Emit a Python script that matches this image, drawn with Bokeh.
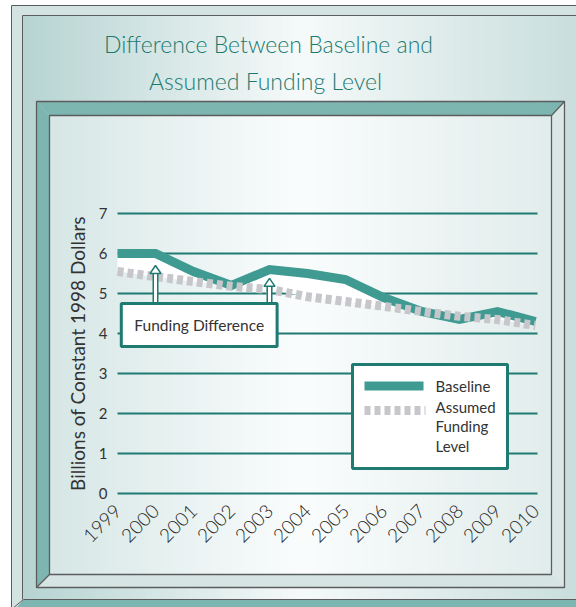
import numpy as np
from math import pi
from bokeh.plotting import figure
from bokeh.models import Range1d, LinearAxis, FixedTicker, ColumnDataSource
from bokeh.core.properties import value
from bokeh.embed import file_html
from bokeh.resources import INLINE

# ---------------- data ----------------
years = [1999, 2000, 2001, 2002, 2003, 2004, 2005, 2006, 2007, 2008, 2009, 2010]
baseline = [6.0, 6.0, 5.55, 5.2, 5.6, 5.5, 5.35, 4.9, 4.55, 4.35, 4.55, 4.3]
assumed = [5.55, 5.42, 5.3, 5.18, 5.1, 4.92, 4.8, 4.68, 4.55, 4.43, 4.35, 4.2]
y_ticks = [0, 1, 2, 3, 4, 5, 6, 7]
x_tick_labels = ["1999", "2000", "2001", "2002", "2003", "2004", "2005",
                 "2006", "2007", "2008", "2009", "2010"]
title_lines = ["Difference Between Baseline and", "Assumed Funding Level"]
y_label = "Billions of Constant 1998 Dollars"
legend_labels = ["Baseline", "Assumed\nFunding\nLevel"]
note_text = "Funding Difference"
arrow_years = [2000, 2003]
arrow_tips = [5.7, 5.38]
note_box = dict(left=1999.1, right=2003.2, top=4.75, bottom=3.675)

# ---------------- layout (pixels) ----------------
W, H = 576, 607
PX_X0, PX_X1 = 117, 535      # pixel of first / last year
PX_Y0, PX_UNIT = 493, 40     # pixel of value 0, pixels per unit
XS = (years[-1] - years[0]) / (PX_X1 - PX_X0)

FONT = "Lato"
TITLE_FONT = "Lato Light, Lato"
TEAL_FACE = "#7db5b1"
LIGHT_FACE = "#dae7e6"
OUTLINE = "#5c5c5c"
GRID = "#1f7a72"
BASE_COLOR = "#3f9a92"
ASSUMED_COLOR = "#c6c6cb"
TEXT = "#333333"
TITLE = "#1b7a70"

p = figure(width=W, height=H, output_backend="svg", toolbar_location=None,
           x_axis_location=None, y_axis_location=None, title=None,
           x_range=Range1d(years[0] - PX_X0 * XS, years[0] + (W - PX_X0) * XS),
           y_range=Range1d((PX_Y0 - H) / PX_UNIT, PX_Y0 / PX_UNIT),
           min_border=0, min_border_left=0, min_border_right=0,
           min_border_top=0, min_border_bottom=0,
           outline_line_color=None, background_fill_color="white",
           border_fill_color="white")
p.grid.visible = False
p.extra_x_ranges = {"px": Range1d(0, W)}
p.extra_y_ranges = {"px": Range1d(H, 0)}
PX = dict(x_range_name="px", y_range_name="px")


def hexrgb(h):
    return tuple(int(h[i:i + 2], 16) for i in (1, 3, 5))


def strips(x0, x1, y0, y1, stops, n=90):
    edges = np.linspace(x0, x1, n + 1)
    mids = (edges[:-1] + edges[1:]) / 2
    sp = [s[0] for s in stops]
    cols = np.array([hexrgb(s[1]) for s in stops], dtype=float)
    colors = []
    for m in mids:
        r, g, b = (np.interp(m, sp, cols[:, k]) for k in range(3))
        colors.append("#%02x%02x%02x" % (int(r), int(g), int(b)))
    p.quad(left=edges[:-1], right=edges[1:] + 0.7, top=[y0] * n, bottom=[y1] * n,
           fill_color=colors, line_color=None, **PX)


# outer card
p.quad(left=[11], right=[600], top=[5], bottom=[640], fill_color="#d3e3e2",
       line_color=OUTLINE, line_width=1, **PX)
# recessed area with gradient
strips(22, 577, 15, 599, [(22, "#b6d4d2"), (300, "#f6fafa"), (577, "#c9dfdd")])
p.multi_line(xs=[[22, 580], [22, 22]], ys=[[15, 15], [15, 599]],
             line_color=OUTLINE, line_width=1, **PX)
# bottom teal band
p.patch(x=[23, 580, 580, 12], y=[599, 599, 612, 612], fill_color=TEAL_FACE,
        line_color=None, **PX)
p.multi_line(xs=[[23, 580], [23, 12]], ys=[[599, 599], [599, 608]],
             line_color=OUTLINE, line_width=1, **PX)

# bevelled chart panel
OX0, OY0, OX1, OY1 = 36, 101, 564, 587
IX0, IY0, IX1, IY1 = 49, 115, 551, 574
p.patches(xs=[[OX0, OX1, IX1, IX0], [OX0, IX0, IX0, OX0],
              [OX1, OX1, IX1, IX1], [OX0, OX1, IX1, IX0]],
          ys=[[OY0, OY0, IY0, IY0], [OY0, IY0, IY1, OY1],
              [OY0, OY1, IY1, IY0], [OY1, OY1, IY1, IY1]],
          fill_color=[TEAL_FACE, TEAL_FACE, LIGHT_FACE, "#d6e5e4"],
          line_color=None, **PX)
strips(IX0, IX1, IY0, IY1, [(49, "#d6e7e6"), (300, "#fbfdfd"), (551, "#e1edec")])
p.quad(left=[OX0, IX0], right=[OX1, IX1], top=[OY0, IY0], bottom=[OY1, IY1],
       fill_color=None, line_color=OUTLINE, line_width=1.3, **PX)
p.multi_line(xs=[[IX1, OX1], [IX0, OX0]], ys=[[IY0, OY0], [IY1, OY1]],
             line_color=OUTLINE, line_width=1.2, **PX)

# ---------------- chart ----------------
grid_x1 = years[-1] + 2 * XS
p.segment(x0=[years[0]] * len(y_ticks), x1=[grid_x1] * len(y_ticks),
          y0=y_ticks, y1=y_ticks, line_color=GRID, line_width=2)

src = ColumnDataSource(dict(year=years, base=baseline, assumed=assumed))
p.varea(x="year", y1="assumed", y2="base", source=src, fill_color="white")
p.line(x="year", y="base", source=src, line_color=BASE_COLOR, line_width=9,
       line_join="miter")
p.line(x="year", y="assumed", source=src, line_color=ASSUMED_COLOR, line_width=9,
       line_dash="6 4", line_cap="butt")

# arrows to the baseline
head_h = 8 / PX_UNIT
head_w = 5.5 * XS
for ax, tip in zip(arrow_years, arrow_tips):
    p.segment(x0=[ax], x1=[ax], y0=[note_box["top"]], y1=[tip - head_h],
              line_color=GRID, line_width=6)
    p.segment(x0=[ax], x1=[ax], y0=[note_box["top"] - 0.05], y1=[tip - head_h + 0.03],
              line_color="white", line_width=3)
    p.patch(x=[ax - head_w, ax + head_w, ax], y=[tip - head_h, tip - head_h, tip],
            fill_color="white", line_color=GRID, line_width=1.5)

# "Funding Difference" box
p.quad(left=[note_box["left"]], right=[note_box["right"]], top=[note_box["top"]],
       bottom=[note_box["bottom"]], fill_color="white", line_color=GRID, line_width=3)
p.text(x=[(note_box["left"] + note_box["right"]) / 2],
       y=[(note_box["top"] + note_box["bottom"]) / 2], text=[note_text],
       text_align="center", text_baseline="middle", text_color=TEXT,
       text_font=value(FONT), text_font_size="15.5px")

# legend (pixels)
p.quad(left=[352], right=[507], top=[364], bottom=[468], fill_color="white",
       line_color=GRID, line_width=3, **PX)
p.segment(x0=[364], x1=[423], y0=[385.5], y1=[385.5], line_color=BASE_COLOR,
          line_width=9, **PX)
p.segment(x0=[364], x1=[425], y0=[410], y1=[410], line_color=ASSUMED_COLOR,
          line_width=9, line_dash="6 4", **PX)
p.text(x=[435, 435], y=[385, 426], text=legend_labels, text_align="left",
       text_baseline="middle", text_color=TEXT, text_font=value(FONT),
       text_font_size="15px", text_line_height=1.1, **PX)

# title (pixels)
p.text(x=[268, 265], y=[43, 80], text=title_lines, text_align="center",
       text_baseline="alphabetic", text_color=TITLE, text_font=value(TITLE_FONT),
       text_font_size="23px", **PX)

# ---------------- axes ----------------
yaxis = LinearAxis(fixed_location=years[0], bounds=(y_ticks[0], y_ticks[-1]),
                   ticker=FixedTicker(ticks=y_ticks))
yaxis.axis_line_color = None
yaxis.major_tick_in = 0
yaxis.major_tick_out = 0
yaxis.minor_tick_in = 0
yaxis.minor_tick_out = 0
yaxis.major_label_standoff = 10
yaxis.major_label_text_font = FONT
yaxis.major_label_text_font_size = "15px"
yaxis.major_label_text_color = TEXT
yaxis.axis_label = y_label
yaxis.axis_label_standoff = 7
yaxis.axis_label_text_font = FONT
yaxis.axis_label_text_font_size = "19px"
yaxis.axis_label_text_font_style = "normal"
yaxis.axis_label_text_color = TEXT
p.add_layout(yaxis, "left")

xaxis = LinearAxis(fixed_location=0, bounds=(years[0], years[-1]),
                   ticker=FixedTicker(ticks=years))
xaxis.major_label_overrides = {y: s for y, s in zip(years, x_tick_labels)}
xaxis.axis_line_color = None
xaxis.major_tick_in = 0
xaxis.major_tick_out = 0
xaxis.minor_tick_in = 0
xaxis.minor_tick_out = 0
xaxis.major_label_standoff = 14
xaxis.major_label_orientation = pi / 4
xaxis.major_label_text_font = "Lato Light, Lato"
xaxis.major_label_text_font_size = "19px"
xaxis.major_label_text_color = "#222222"
p.add_layout(xaxis, "below")

open("out.html", "w").write(file_html(p, INLINE))
